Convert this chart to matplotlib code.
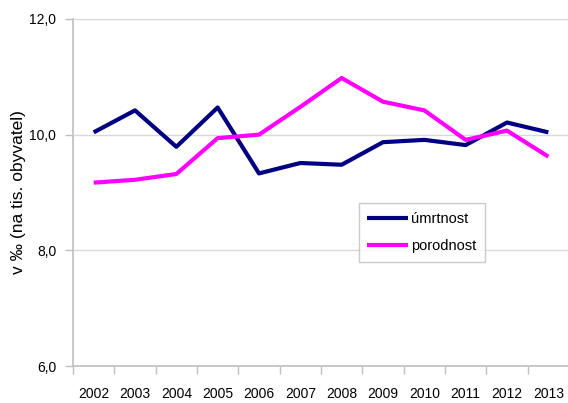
import matplotlib
matplotlib.use("Agg")
import matplotlib.pyplot as plt

plt.rcParams['font.family'] = ['Liberation Sans', 'DejaVu Sans']

years = ['2002', '2003', '2004', '2005', '2006', '2007',
         '2008', '2009', '2010', '2011', '2012', '2013']
umrtnost = [10.04, 10.42, 9.79, 10.47, 9.33, 9.51, 9.48, 9.87, 9.91, 9.82, 10.21, 10.04]
porodnost = [9.17, 9.22, 9.32, 9.94, 10.00, 10.48, 10.98, 10.57, 10.42, 9.91, 10.07, 9.62]
yticks = [6, 8, 10, 12]

fig = plt.figure(figsize=(5.68, 4.03), dpi=100)
ax = fig.add_axes([73/568, 1 - 366/403, 496/568, 347/403])

x = list(range(len(years)))
ax.plot(x, umrtnost, color='#000080', lw=3, label='úmrtnost', solid_capstyle='butt')
ax.plot(x, porodnost, color='#FF00FF', lw=3, label='porodnost', solid_capstyle='butt')

ax.set_xlim(-0.5, len(years) - 0.5)
ax.set_ylim(6, 12)
ax.set_yticks(yticks)
ax.set_yticklabels(['%d,0' % v for v in yticks], fontsize=10)
ax.yaxis.grid(True, color='#d9d9d9', lw=1)
ax.set_axisbelow(True)

ax.set_xticks([i - 0.5 for i in x])
ax.set_xticklabels([])
ax.set_xticks(x, minor=True)
ax.set_xticklabels(years, minor=True, fontsize=10)
ax.tick_params(axis='x', which='minor', length=0, pad=15)
ax.tick_params(axis='x', which='major', length=6, color='#bfbfbf', width=1)
ax.tick_params(axis='y', length=6, color='#bfbfbf', width=1, pad=6)

for s in ['top', 'right']:
    ax.spines[s].set_visible(False)
for s in ['left', 'bottom']:
    ax.spines[s].set_color('#bfbfbf')
    ax.spines[s].set_linewidth(1.2)

ax.set_ylabel('v ‰ (na tis. obyvatel)', fontsize=12.5)
ax.yaxis.set_label_coords(-0.095, 0.5)

leg = ax.legend(loc='upper left', bbox_to_anchor=(0.576, 0.47), borderaxespad=0,
                fancybox=False, frameon=True, fontsize=10.5, handlelength=2.8,
                handletextpad=0.2, labelspacing=0.9, borderpad=0.6)
leg.get_frame().set_edgecolor('#bfbfbf')
leg.get_frame().set_linewidth(1)

fig.savefig('out.png', dpi=100)
